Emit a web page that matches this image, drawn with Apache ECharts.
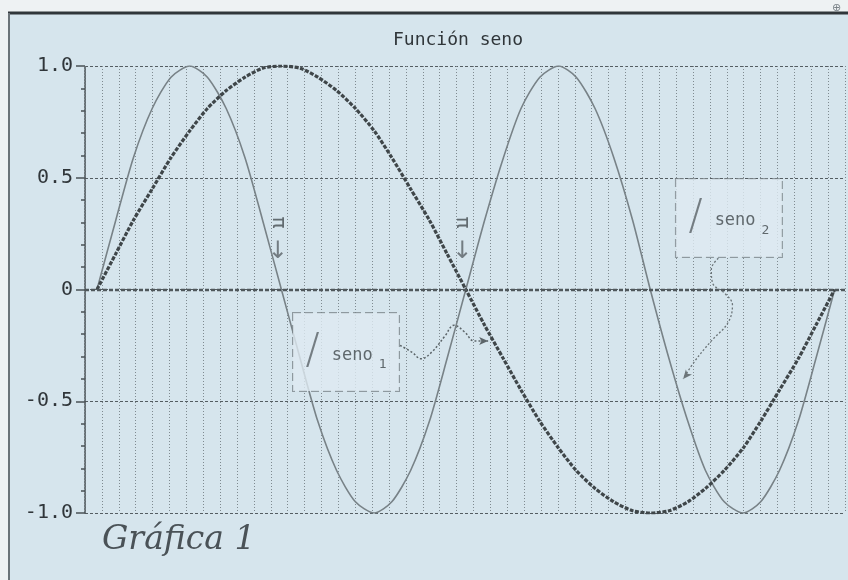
<!DOCTYPE html>
<html>
<head>
<meta charset="utf-8">
<title>Función seno</title>
<script src="https://cdn.jsdelivr.net/npm/echarts@6/dist/echarts.min.js"></script>
<style>
  html, body { margin: 0; padding: 0; background: #eef2f3; }
  #chart { width: 848px; height: 580px; }
</style>
</head>
<body>
<div id="chart"></div>
<script>
/* ========================================
   Función seno — two sine curves, scanned plot look
   ======================================== */

// x in radians (step pi/20)
var xRad = [0, 0.16, 0.31, 0.47, 0.63, 0.79, 0.94, 1.10, 1.26, 1.41, 1.57, 1.73, 1.88, 2.04, 2.20, 2.36, 2.51, 2.67, 2.83, 2.98,
            3.14, 3.30, 3.46, 3.61, 3.77, 3.93, 4.08, 4.24, 4.40, 4.56, 4.71, 4.87, 5.03, 5.18, 5.34, 5.50, 5.65, 5.81, 5.97, 6.12, 6.28];
var seno1 = [0, 0.16, 0.31, 0.45, 0.59, 0.71, 0.81, 0.89, 0.95, 0.99, 1.0, 0.99, 0.95, 0.89, 0.81, 0.71, 0.59, 0.45, 0.31, 0.16,
             0, -0.16, -0.31, -0.45, -0.59, -0.71, -0.81, -0.89, -0.95, -0.99, -1.0, -0.99, -0.95, -0.89, -0.81, -0.71, -0.59, -0.45, -0.31, -0.16, 0];
var seno2 = [0, 0.31, 0.59, 0.81, 0.95, 1.0, 0.95, 0.81, 0.59, 0.31, 0, -0.31, -0.59, -0.81, -0.95, -1.0, -0.95, -0.81, -0.59, -0.31,
             0, 0.31, 0.59, 0.81, 0.95, 1.0, 0.95, 0.81, 0.59, 0.31, 0, -0.31, -0.59, -0.81, -0.95, -1.0, -0.95, -0.81, -0.59, -0.31, 0];
var yTickLabels = { '1': '1.0', '0.5': '0.5', '0': '0', '-0.5': '-0.5', '-1': '-1.0' };

// annotations (data coords: radians, value)
var piMarks = [[1.54, 0.30], [3.11, 0.30]];
var piArrows = [[1.54, 0.17], [3.11, 0.17]];
var boxes = [
  { name: '1', pos: [2.12, -0.28] },
  { name: '2', pos: [5.38, 0.32] }
];
var arrow1 = [[2.58, -0.25], [2.68, -0.28], [2.76, -0.31], [2.85, -0.28], [2.96, -0.21], [3.04, -0.16], [3.13, -0.19], [3.21, -0.23], [3.33, -0.23]];
var arrow2 = [[5.29, 0.14], [5.23, 0.09], [5.24, 0.03], [5.35, -0.02], [5.41, -0.07], [5.37, -0.15], [5.23, -0.23], [5.09, -0.32], [4.99, -0.40]];

var MONO = '"DejaVu Sans Mono", "Liberation Mono", monospace';

var chart = echarts.init(document.getElementById('chart'), null, { renderer: 'canvas' });

function pairs(xs, ys) {
  return xs.map(function (x, i) { return [x, ys[i]]; });
}

function arrowData(pts, rot) {
  return pts.map(function (p, i) {
    if (i === pts.length - 1) {
      return { value: p, symbol: 'arrow', symbolSize: [6, 9], symbolRotate: rot };
    }
    return { value: p, symbol: 'none' };
  });
}

var boxLabel = {
  show: true,
  position: 'inside',
  width: 90,
  padding: [16, 8, 16, 8],
  align: 'center',
  verticalAlign: 'middle',
  backgroundColor: '#dfeaf1',
  borderColor: '#7c868b',
  borderWidth: 1,
  borderType: 'dashed',
  rich: {
    sl: { fontSize: 42, lineHeight: 46, fontFamily: '"DejaVu Sans"', fontWeight: 'lighter', color: '#5a6266', padding: [0, 12, 0, 0] },
    t: { fontSize: 17, lineHeight: 46, fontFamily: MONO, color: '#40474b', padding: [6, 0, 0, 0] },
    sub: { fontSize: 13, lineHeight: 46, fontFamily: MONO, color: '#40474b', padding: [26, 0, 0, 6] }
  }
};

var option = {
  backgroundColor: '#d6e5ed',
  animation: false,
  title: {
    text: 'Función seno',
    left: 453,
    top: 26,
    textAlign: 'center',
    textStyle: { fontFamily: MONO, fontSize: 18, fontWeight: 'normal', color: '#30363a' }
  },
  grid: { left: 85, right: 3, top: 66, bottom: 67 },
  xAxis: [
    {
      // grid lines only
      type: 'value',
      min: 0,
      max: 45,
      interval: 1,
      axisLine: { show: false },
      axisTick: { show: false },
      axisLabel: { show: false },
      splitLine: { show: true, lineStyle: { color: '#7f8a90', width: 1, type: [1, 2] } }
    },
    {
      // data axis in radians
      type: 'value',
      min: -0.102,
      max: 6.368,
      show: false,
      splitLine: { show: false }
    }
  ],
  yAxis: {
    type: 'value',
    min: -1,
    max: 1,
    interval: 0.5,
    axisLine: { show: true, lineStyle: { color: '#4a5155', width: 1.5, type: [2, 1] } },
    axisTick: { show: true, length: 9, lineStyle: { color: '#4a5155', width: 1.5 } },
    minorTick: { show: true, splitNumber: 5, length: 4, lineStyle: { color: '#4a5155', width: 1.5 } },
    axisLabel: {
      margin: 12,
      fontFamily: MONO,
      fontSize: 20,
      color: '#30363a',
      formatter: function (v) { return yTickLabels[String(v)] || ''; }
    },
    splitLine: { show: true, lineStyle: { color: '#545d62', width: 1.2, type: [3, 2] } }
  },
  graphic: [
    { type: 'rect', shape: { x: 0, y: 0, width: 848, height: 12 }, style: { fill: '#eef2f3' }, silent: true },
    { type: 'rect', shape: { x: 0, y: 0, width: 8, height: 580 }, style: { fill: '#eef2f3' }, silent: true },
    { type: 'line', shape: { x1: 8, y1: 13, x2: 848, y2: 13 }, style: { stroke: '#30363a', lineWidth: 3 }, silent: true },
    { type: 'line', shape: { x1: 9, y1: 13, x2: 9, y2: 580 }, style: { stroke: '#6a7378', lineWidth: 2 }, silent: true },
    { type: 'text', left: 832, top: 2, style: { text: '⊕', fontSize: 11, fill: '#7a8388' }, silent: true },
    {
      type: 'text', left: 102, top: 524,
      style: { text: 'Gráfica 1', fontFamily: '"DejaVu Serif"', fontStyle: 'italic', fontWeight: 'lighter', fontSize: 33, fill: '#4a5257' },
      silent: true
    }
  ],
  series: [
    {
      name: 'seno2',
      type: 'line',
      xAxisIndex: 1,
      data: pairs(xRad, seno2),
      smooth: 0.25,
      symbol: 'none',
      lineStyle: { color: '#788287', width: 1.6 },
      z: 3,
      silent: true
    },
    {
      name: 'seno1',
      type: 'line',
      xAxisIndex: 1,
      data: pairs(xRad, seno1),
      smooth: 0.25,
      symbol: 'none',
      lineStyle: { color: '#3f4649', width: 3.2, type: [4, 1.5] },
      z: 4,
      silent: true,
      markLine: {
        silent: true,
        symbol: 'none',
        label: { show: false },
        lineStyle: { color: '#4f575b', width: 2.4, type: [4, 2] },
        data: [{ yAxis: 0 }]
      }
    },
    {
      name: 'flecha1',
      type: 'line',
      xAxisIndex: 1,
      data: arrowData(arrow1, -90),
      smooth: 0.4,
      showSymbol: true,
      lineStyle: { color: '#5c6569', width: 1.5, type: [2, 2] },
      itemStyle: { color: '#5c6569' },
      z: 5,
      silent: true
    },
    {
      name: 'flecha2',
      type: 'line',
      xAxisIndex: 1,
      data: arrowData(arrow2, 140),
      smooth: 0.4,
      showSymbol: true,
      lineStyle: { color: '#6c7579', width: 1.3, type: [2, 2] },
      itemStyle: { color: '#6c7579' },
      z: 5,
      silent: true
    },
    {
      name: 'pi',
      type: 'scatter',
      xAxisIndex: 1,
      data: piMarks,
      symbolSize: 0,
      silent: true,
      z: 6,
      label: {
        show: true,
        position: 'inside',
        formatter: 'π',
        rotate: -90,
        fontFamily: MONO,
        fontSize: 20,
        color: '#454c50'
      }
    },
    {
      name: 'piArrow',
      type: 'scatter',
      xAxisIndex: 1,
      data: piArrows,
      symbolSize: 0,
      silent: true,
      z: 6,
      label: {
        show: true,
        position: 'inside',
        formatter: '↓',
        fontFamily: '"DejaVu Sans"',
        fontSize: 24,
        color: '#5a6266'
      }
    },
    {
      name: 'cajas',
      type: 'scatter',
      xAxisIndex: 1,
      data: boxes.map(function (b) { return { name: b.name, value: b.pos }; }),
      symbolSize: 0,
      silent: true,
      z: 7,
      label: Object.assign({}, boxLabel, {
        formatter: function (p) { return '{sl|/}{t|seno}{sub|' + p.name + '}'; }
      })
    }
  ]
};

chart.setOption(option);
</script>
</body>
</html>
